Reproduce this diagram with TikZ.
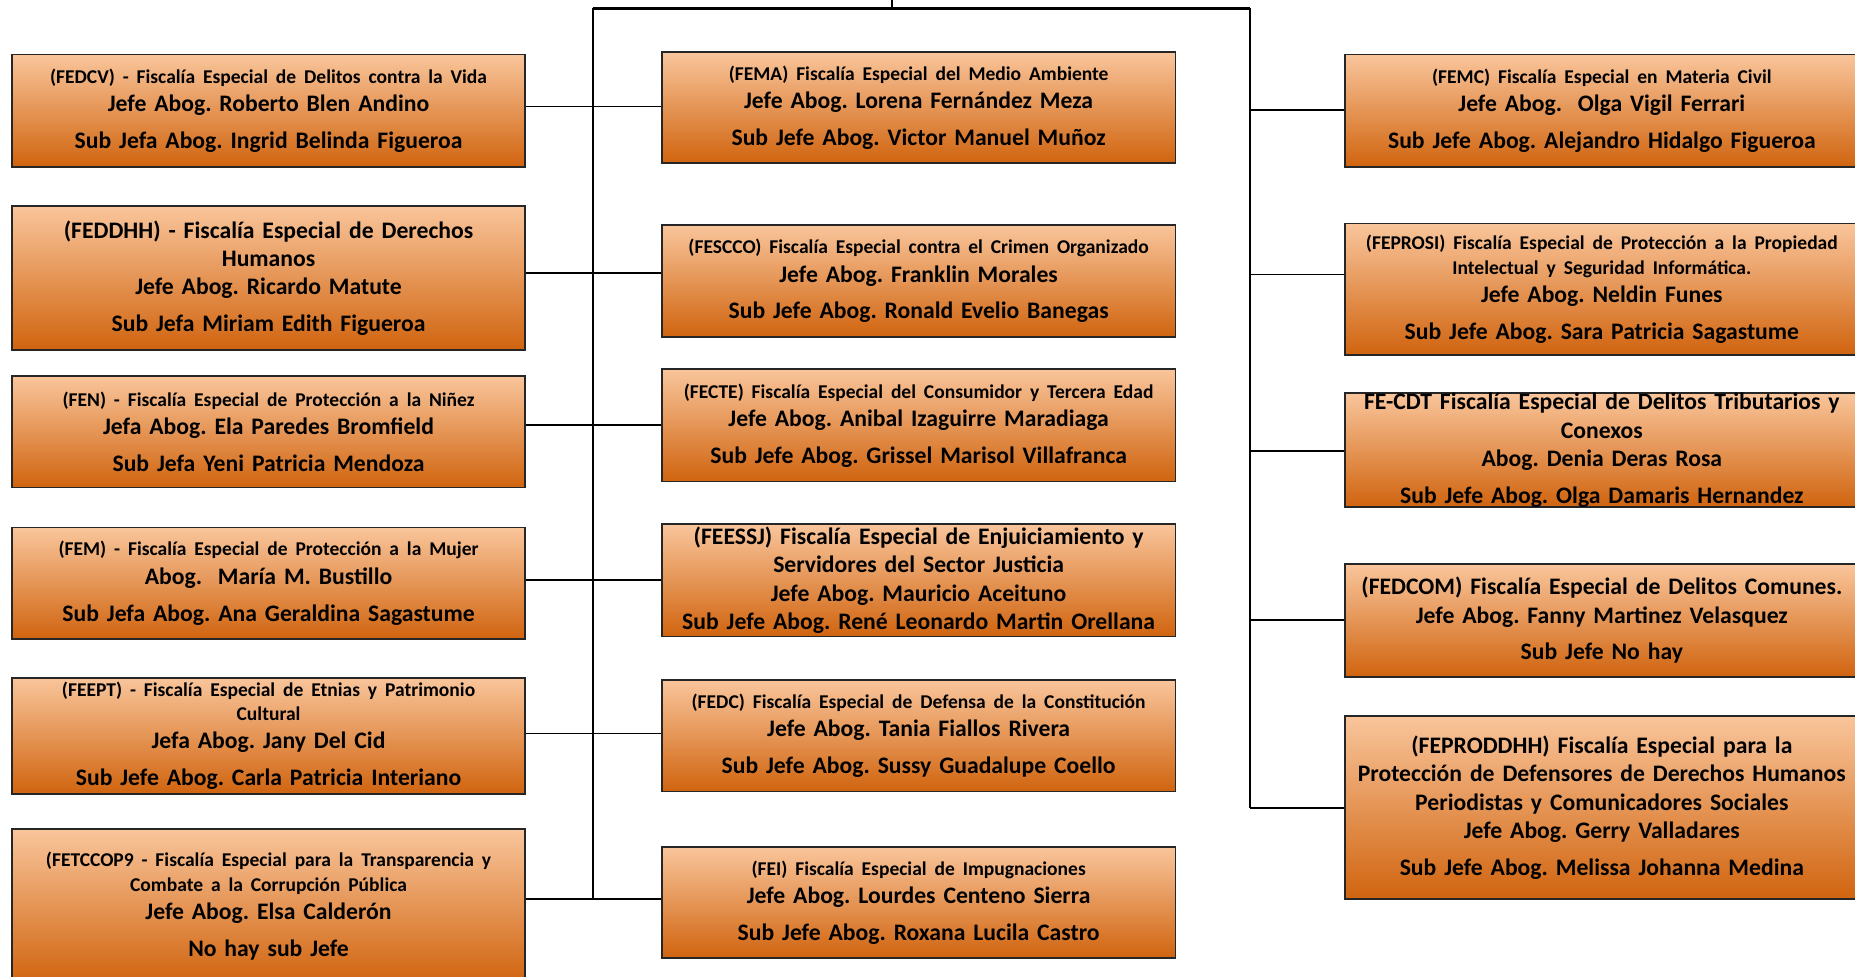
\documentclass[tikz,border=0pt]{standalone}
\usepackage{fontspec}
\setmainfont{Carlito}
\frenchspacing
\definecolor{boxtop}{HTML}{F9C59B}
\definecolor{boxmid}{HTML}{F2A262}
\definecolor{boxbot}{HTML}{D0640F}
\newcommand{\sm}{\fontsize{16.5}{20}\selectfont}
\begin{document}
\begin{tikzpicture}[x=1pt,y=-1pt,
  fbox/.style={rectangle, draw=black!85, line width=1.4pt, minimum width=434pt,
    top color=boxtop, middle color=boxmid, bottom color=boxbot, shading angle=0,
    inner sep=0pt, text width=430pt, align=center,
    font=\bfseries\fontsize{20}{24}\selectfont},
  link/.style={draw=black, line width=1.6pt},
  bus/.style={draw=black, line width=1.7pt}]
\useasboundingbox (0,0) rectangle (1568,825);
\clip (0,0) rectangle (1568,825);
% left column
\node[fbox, minimum height=95pt] (fedcv) at (227,93.5)
 {{\sm (FEDCV) - Fiscalía Especial de Delitos contra la Vida}\\ Jefe Abog. Roberto Blen Andino\\[7pt] Sub Jefa Abog. Ingrid Belinda Figueroa};
\node[fbox, minimum height=122pt] (feddhh) at (227,235)
 {(FEDDHH) - Fiscalía Especial de Derechos\\ Humanos\\ Jefe Abog. Ricardo Matute\\[7pt] Sub Jefa Miriam Edith Figueroa};
\node[fbox, minimum height=94pt] (fen) at (227,365)
 {{\sm (FEN) - Fiscalía Especial de Protección a la Niñez}\\ Jefa Abog. Ela Paredes Bromfield\\[7pt] Sub Jefa Yeni Patricia Mendoza};
\node[fbox, minimum height=94pt] (fem) at (227,493)
 {{\sm (FEM) - Fiscalía Especial de Protección a la Mujer}\\ Abog.~~María M. Bustillo\\[7pt] Sub Jefa Abog. Ana Geraldina Sagastume};
\node[fbox, minimum height=98pt] (feept) at (227,622)
 {{\sm (FEEPT) - Fiscalía Especial de Etnias y Patrimonio}\\[-4pt] {\sm Cultural}\\ Jefa Abog. Jany Del Cid\\[7pt] Sub Jefe Abog. Carla Patricia Interiano};
\node[fbox, minimum height=130pt] (fetccop) at (227,766)
 {{\sm (FETCCOP9 - Fiscalía Especial para la Transparencia y}\\[-3pt] {\sm Combate a la Corrupción Pública}\\ Jefe Abog. Elsa Calderón\\[7pt] No hay sub Jefe};
% middle column
\node[fbox, minimum height=94pt] (fema) at (776.5,91)
 {{\sm (FEMA) Fiscalía Especial del Medio Ambiente}\\ Jefe Abog. Lorena Fernández Meza\\[7pt] Sub Jefe Abog. Victor Manuel Muñoz};
\node[fbox, minimum height=95pt] (fescco) at (776.5,237.5)
 {{\sm (FESCCO) Fiscalía Especial contra el Crimen Organizado}\\ Jefe Abog. Franklin Morales\\[7pt] Sub Jefe Abog. Ronald Evelio Banegas};
\node[fbox, minimum height=95pt] (fecte) at (776.5,359.5)
 {{\sm (FECTE) Fiscalía Especial del Consumidor y Tercera Edad}\\ Jefe Abog. Anibal Izaguirre Maradiaga\\[7pt] Sub Jefe Abog. Grissel Marisol Villafranca};
\node[fbox, minimum height=95pt] (feessj) at (776.5,490.5)
 {(FEESSJ) Fiscalía Especial de Enjuiciamiento y\\ Servidores del Sector Justicia\\ Jefe Abog. Mauricio Aceituno\\ Sub Jefe Abog. René Leonardo Martin Orellana};
\node[fbox, minimum height=94pt] (fedc) at (776.5,622)
 {{\sm (FEDC) Fiscalía Especial de Defensa de la Constitución}\\ Jefe Abog. Tania Fiallos Rivera\\[7pt] Sub Jefe Abog. Sussy Guadalupe Coello};
\node[fbox, minimum height=94pt] (fei) at (776.5,763)
 {{\sm (FEI) Fiscalía Especial de Impugnaciones}\\ Jefe Abog. Lourdes Centeno Sierra\\[7pt] Sub Jefe Abog. Roxana Lucila Castro};
% right column
\node[fbox, minimum height=95pt] (femc) at (1354,93.5)
 {{\sm (FEMC) Fiscalía Especial en Materia Civil}\\ Jefe Abog.~~Olga Vigil Ferrari\\[7pt] Sub Jefe Abog. Alejandro Hidalgo Figueroa};
\node[fbox, minimum height=111pt] (feprosi) at (1354,244.5)
 {{\sm (FEPROSI) Fiscalía Especial de Protección a la Propiedad}\\[-3pt] {\sm Intelectual y Seguridad Informática.}\\ Jefe Abog. Neldin Funes\\[7pt] Sub Jefe Abog. Sara Patricia Sagastume};
\node[fbox, minimum height=95pt] (fecdt) at (1354,380.5)
 {FE-CDT Fiscalía Especial de Delitos Tributarios y\\ Conexos\\ Abog. Denia Deras Rosa\\[7pt] Sub Jefe Abog. Olga Damaris Hernandez};
\node[fbox, minimum height=95pt] (fedcom) at (1354,524.5)
 {(FEDCOM) Fiscalía Especial de Delitos Comunes.\\ Jefe Abog. Fanny Martinez Velasquez\\[7pt] Sub Jefe No hay};
\node[fbox, minimum height=155pt] (feproddhh) at (1354,682.5)
 {(FEPRODDHH) Fiscalía Especial para la\\ Protección de Defensores de Derechos Humanos\\ Periodistas y Comunicadores Sociales\\ Jefe Abog. Gerry Valladares\\[7pt] Sub Jefe Abog. Melissa Johanna Medina};
% bus
\coordinate (top) at (754,0);
\coordinate (topj) at (754,7);
\coordinate (lt) at (501,7);
\coordinate (rt) at (1057,7);
\coordinate (l1) at (501,90);
\coordinate (l2) at (501,231);
\coordinate (l3) at (501,359);
\coordinate (l4) at (501,490);
\coordinate (l5) at (501,620);
\coordinate (l6) at (501,760);
\coordinate (r1) at (1057,93);
\coordinate (r2) at (1057,232);
\coordinate (r3) at (1057,381);
\coordinate (r4) at (1057,524);
\coordinate (r5) at (1057,683);
\draw[bus] (top) -- (topj);
\draw[bus, line width=2.4pt] (lt) -- (rt);
\draw[bus] (lt) -- (l6);
\draw[bus] (rt) -- (r5);
% left and middle links
\draw[link] (fedcv.east |- l1) -- (fema.west |- l1);
\draw[link] (feddhh.east |- l2) -- (fescco.west |- l2);
\draw[link] (fen.east |- l3) -- (fecte.west |- l3);
\draw[link] (fem.east |- l4) -- (feessj.west |- l4);
\draw[link] (feept.east |- l5) -- (fedc.west |- l5);
\draw[link] (fetccop.east |- l6) -- (fei.west |- l6);
% right links
\draw[link] (r1) -- (femc.west |- r1);
\draw[link] (r2) -- (feprosi.west |- r2);
\draw[link] (r3) -- (fecdt.west |- r3);
\draw[link] (r4) -- (fedcom.west |- r4);
\draw[link] (r5) -- (feproddhh.west |- r5);
\end{tikzpicture}
\end{document}
